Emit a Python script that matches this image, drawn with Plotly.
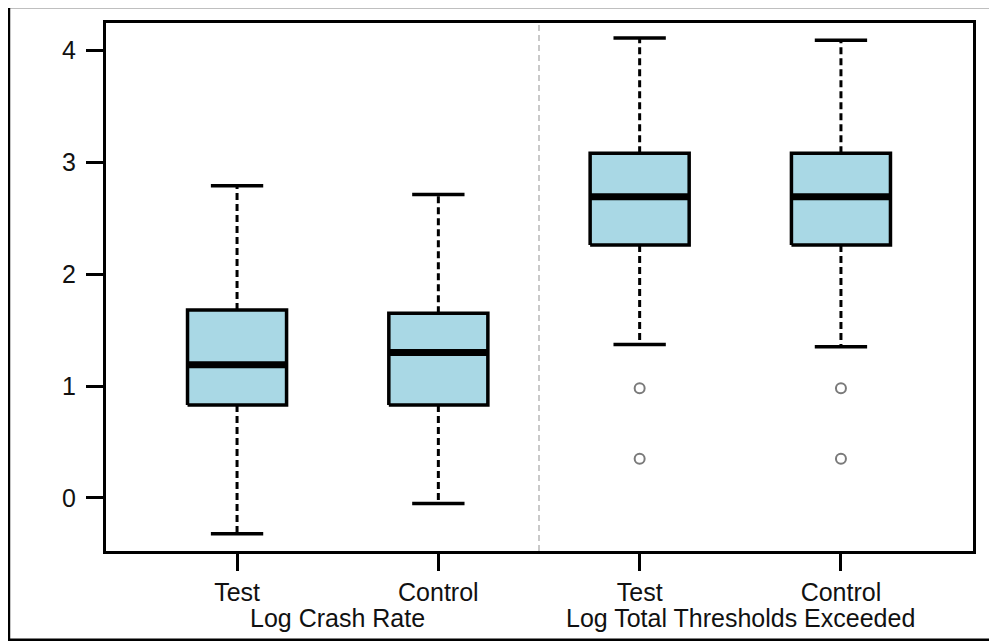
import plotly.graph_objects as go

# ---- data ----
categories = ["Test", "Control", "Test", "Control"]
groups = ["Log Crash Rate", "Log Total Thresholds Exceeded"]
group_of = [0, 0, 1, 1]
lower_whisker = [-0.32, -0.05, 1.37, 1.35]
q1 = [0.83, 0.83, 2.26, 2.26]
median = [1.19, 1.30, 2.69, 2.69]
q3 = [1.68, 1.65, 3.08, 3.08]
upper_whisker = [2.79, 2.71, 4.11, 4.09]
outliers = [[], [], [0.98, 0.35], [0.98, 0.35]]
y_ticks = [0, 1, 2, 3, 4]

# ---- styling ----
BOX_FILL = "#a9d8e5"
BOX_HALF = 0.246
CAP_HALF = 0.13
FONT = "Liberation Sans, Arial, sans-serif"
FS = 25

fig = go.Figure()
xs = list(range(len(categories)))

for i, x in enumerate(xs):
    # whiskers (dashed)
    fig.add_trace(go.Scatter(
        x=[x, x, None, x, x],
        y=[q3[i], upper_whisker[i], None, q1[i], lower_whisker[i]],
        mode="lines", line=dict(color="black", width=3, dash="7px,4px"),
        hoverinfo="skip", showlegend=False))
    # caps
    fig.add_trace(go.Scatter(
        x=[x - CAP_HALF, x + CAP_HALF, None, x - CAP_HALF, x + CAP_HALF],
        y=[upper_whisker[i], upper_whisker[i], None, lower_whisker[i], lower_whisker[i]],
        mode="lines", line=dict(color="black", width=3.5),
        hoverinfo="skip", showlegend=False))
    # box
    fig.add_trace(go.Scatter(
        x=[x - BOX_HALF, x + BOX_HALF, x + BOX_HALF, x - BOX_HALF, x - BOX_HALF],
        y=[q1[i], q1[i], q3[i], q3[i], q1[i]],
        mode="lines", fill="toself", fillcolor=BOX_FILL,
        line=dict(color="black", width=3.5),
        hoverinfo="skip", showlegend=False))
    # median
    fig.add_trace(go.Scatter(
        x=[x - BOX_HALF, x + BOX_HALF], y=[median[i], median[i]],
        mode="lines", line=dict(color="black", width=7),
        hoverinfo="skip", showlegend=False))
    # outliers
    if outliers[i]:
        fig.add_trace(go.Scatter(
            x=[x] * len(outliers[i]), y=outliers[i], mode="markers",
            marker=dict(symbol="circle-open", size=10, color="#7a7a7a",
                        line=dict(width=2, color="#7a7a7a")),
            hoverinfo="skip", showlegend=False))

# group divider
fig.add_shape(type="line", xref="x", yref="paper", x0=1.5, x1=1.5, y0=0, y1=1,
              line=dict(color="#b8b8b8", width=1.5, dash="6px,4px"), layer="below")

# group labels
for g, name in enumerate(groups):
    members = [x for x, gi in zip(xs, group_of) if gi == g]
    fig.add_annotation(x=sum(members) / len(members), xref="x", y=-0.126, yref="paper",
                       text=name, showarrow=False, yanchor="middle",
                       font=dict(family=FONT, size=FS, color="#111111"))

# outer frame
fig.add_shape(type="rect", xref="paper", yref="paper",
              x0=-0.1119, x1=1.0219, y0=-0.1679, y1=1.0302,
              line=dict(color="black", width=2.5))

fig.update_layout(
    width=997, height=642,
    margin=dict(l=98, r=32, t=13, b=99),
    paper_bgcolor="white", plot_bgcolor="white",
    font=dict(family=FONT, size=FS, color="#111111"),
    showlegend=False,
)
fig.update_xaxes(
    range=[-0.651, 3.656], tickvals=xs, ticktext=categories,
    showgrid=False, zeroline=False, showline=True, mirror=True,
    linecolor="black", linewidth=3, ticks="outside", ticklen=17,
    tickwidth=2.5, tickcolor="black", tickfont=dict(size=FS))
fig.update_yaxes(
    range=[-0.474, 4.243], tickvals=y_ticks, ticktext=[str(v) for v in y_ticks],
    showgrid=False, zeroline=False, showline=True, mirror=True,
    linecolor="black", linewidth=3, ticks="outside", ticklen=17,
    tickwidth=2.5, tickcolor="black", tickfont=dict(size=FS),
    ticklabelstandoff=5)

fig.write_html("out.html")
